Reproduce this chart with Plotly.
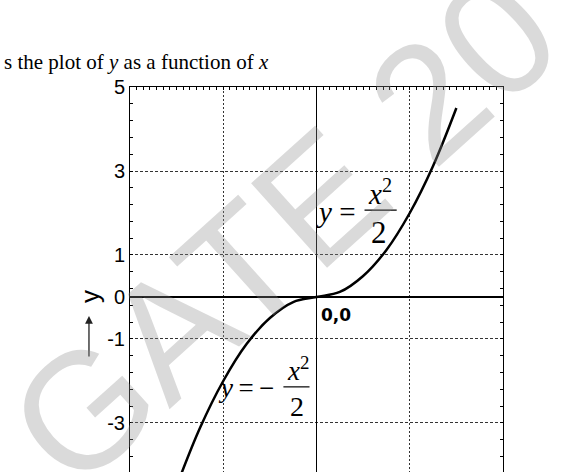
import plotly.graph_objects as go

# curve (y = x^2/2 for x>0, y = -x^2/2 for x<0)
curve_x = [-3.0, -2.5, -2.0, -1.5, -1.0, -0.5, 0.0, 0.5, 1.0, 1.5, 2.0, 2.5, 3.0]
curve_y = [-4.5, -3.12, -2.0, -1.12, -0.5, -0.12, 0.0, 0.12, 0.5, 1.12, 2.0, 3.12, 4.5]

y_tick_vals = [-5, -3, -1, 0, 1, 3, 5]
y_tick_text = ['-5', '-3', '-1', '0', '1', '3', '5']
x_grid_vals = [-4, -2, 0, 2, 4]

fig = go.Figure()
fig.add_trace(go.Scatter(
    x=curve_x, y=curve_y, mode='lines',
    line=dict(color='black', width=2.5, shape='spline'),
    hoverinfo='skip', showlegend=False
))

serif = 'Liberation Serif'
sans = 'Liberation Sans'

annots = [
    # title line (cut off on the left, as in the source)
    dict(text='s the plot of <i>y</i> as a function of <i>x</i>', xref='paper', yref='paper',
         x=-0.343, y=1.065, xanchor='left', yanchor='middle',
         font=dict(family=serif, size=21, color='black'), showarrow=False),
    # y label + arrow
    dict(text='y', xref='paper', yref='y', x=-0.107, y=0, textangle=-90,
         xanchor='center', yanchor='middle',
         font=dict(family=sans, size=26, color='black'), showarrow=False),
    dict(text='', xref='paper', yref='y', x=-0.11, y=-0.45, ax=0, ay=42,
         showarrow=True, arrowhead=2, arrowsize=1.2, arrowwidth=1.3,
         arrowcolor='#222', standoff=0, startstandoff=0),
    # y = x^2/2
    dict(text='<i>y</i> = ', x=0.5, y=2.02, font=dict(family=serif, size=29, color='black'),
         showarrow=False),
    dict(text='<i>x</i><sup>2</sup>', x=1.37, y=2.5, font=dict(family=serif, size=29, color='black'),
         showarrow=False),
    dict(text='2', x=1.35, y=1.54, font=dict(family=serif, size=31, color='black'),
         showarrow=False),
    # y = -x^2/2
    dict(text='<i>y</i>\u2009=\u2009\u2212', x=-1.52, y=-2.17, font=dict(family=serif, size=27, color='black'),
         showarrow=False),
    dict(text='<i>x</i><sup>2</sup>', x=-0.39, y=-1.72, font=dict(family=serif, size=27, color='black'),
         showarrow=False),
    dict(text='2', x=-0.41, y=-2.6, font=dict(family=serif, size=28, color='black'),
         showarrow=False),
    # origin label
    dict(text='<b>0,0</b>', x=0.41, y=-0.43, font=dict(family='DejaVu Sans', size=17, color='black'),
         showarrow=False),
    # watermark
    dict(text='GATE 20', x=-0.71, y=1.6, textangle=-42,
         font=dict(family=sans, size=165, color='rgba(140,140,140,0.32)'),
         showarrow=False),
]

shapes = [
    dict(type='line', xref='x', yref='y', x0=1.03, x1=1.72, y0=2.07, y1=2.07,
         line=dict(color='black', width=1.2)),
    dict(type='line', xref='x', yref='y', x0=-0.71, x1=-0.15, y0=-2.14, y1=-2.14,
         line=dict(color='black', width=1.2)),
]

fig.update_layout(
    width=561, height=472,
    margin=dict(l=130, r=58, t=87, b=0, autoexpand=False),
    paper_bgcolor='white', plot_bgcolor='white',
    annotations=annots, shapes=shapes,
    xaxis=dict(
        range=[-4, 4], side='top', showline=True, linecolor='black', linewidth=1,
        mirror=False, tickmode='array', tickvals=x_grid_vals, showticklabels=False,
        ticks='inside', ticklen=3, tickcolor='black',
        showgrid=True, gridcolor='#333', gridwidth=1, griddash='2px,2px',
        zeroline=True, zerolinecolor='black', zerolinewidth=1,
        minor=dict(tickmode='linear', tick0=0, dtick=2 / 14, ticks='inside',
                   ticklen=3, tickcolor='black', showgrid=False),
        fixedrange=True,
    ),
    yaxis=dict(
        range=[-4.167, 5], showline=True, linecolor='black', linewidth=1,
        mirror='allticks', tickmode='array', tickvals=y_tick_vals, ticktext=y_tick_text,
        ticks='inside', ticklen=3, tickcolor='black',
        tickfont=dict(family=sans, size=20, color='black'),
        showgrid=True, gridcolor='#333', gridwidth=1, griddash='3px,2px',
        zeroline=True, zerolinecolor='black', zerolinewidth=1.5,
        minor=dict(tickmode='linear', tick0=-5, dtick=0.4, ticks='inside',
                   ticklen=3, tickcolor='black', showgrid=False),
        fixedrange=True,
    ),
)

fig.write_html('out.html', config={'displayModeBar': False},
               post_script="document.body.style.margin='0px';")
